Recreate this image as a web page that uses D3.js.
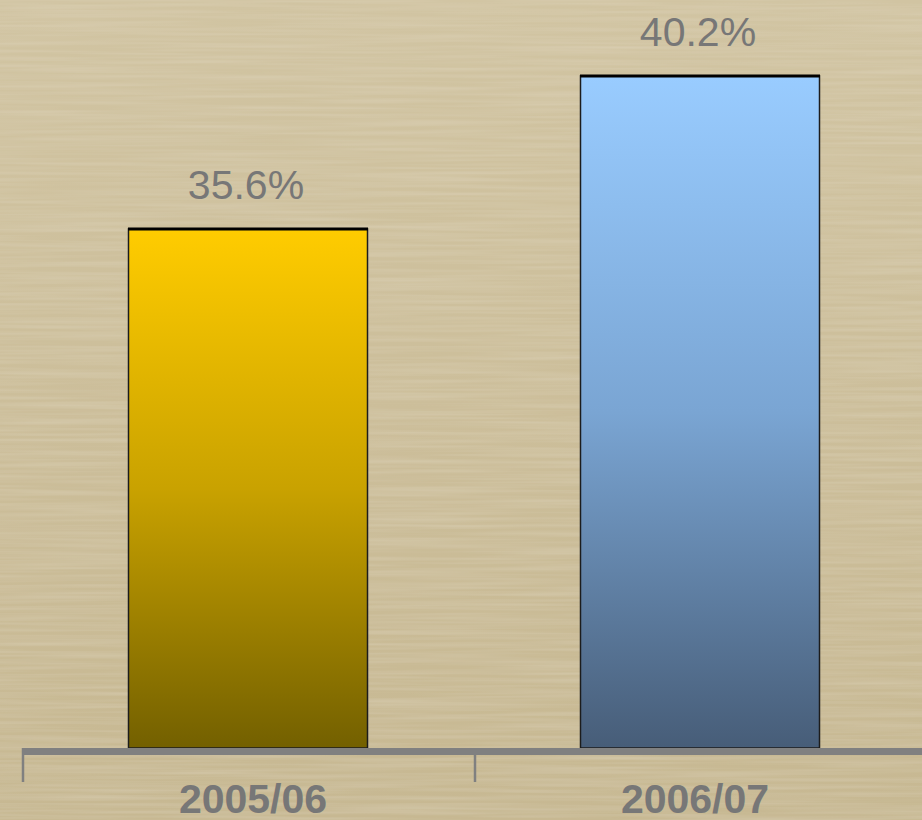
<!DOCTYPE html>
<html>
<head>
<meta charset="utf-8">
<script src="https://cdn.jsdelivr.net/npm/d3@7"></script>
<style>
  html, body { margin: 0; padding: 0; background: #cbbd99; overflow: hidden; }
  svg { display: block; }
</style>
</head>
<body>
<svg id="chart" width="922" height="820"></svg>
<script>
// Share of total, by season
const categories = ["2005/06", "2006/07"];
const values = [35.6, 40.2];
const valueLabels = ["35.6%", "40.2%"];
const barColors = [
  ["#ffcc00", "#c9a200", "#736000"],
  ["#99ccff", "#7aa5d3", "#475d78"]
];

const W = 922, H = 820;
const svg = d3.select("#chart");
const defs = svg.append("defs");

// Woodgrain-like paper texture: horizontally stretched noise
const tex = defs.append("filter").attr("id", "grain")
  .attr("x", 0).attr("y", 0).attr("width", "100%").attr("height", "100%");
tex.append("feTurbulence").attr("type", "fractalNoise")
  .attr("baseFrequency", "0.006 0.28").attr("numOctaves", 2).attr("seed", 7).attr("result", "n");
tex.append("feColorMatrix").attr("in", "n").attr("type", "matrix")
  .attr("values", "0 0 0 0 0.80  0 0 0 0 0.74  0 0 0 0 0.60  0.5 0 0 0 -0.17")
  .attr("result", "tint");
tex.append("feComposite").attr("in", "tint").attr("in2", "SourceGraphic").attr("operator", "over");

const bgGrad = defs.append("linearGradient").attr("id", "bg").attr("x1", 0).attr("y1", 0).attr("x2", 0).attr("y2", 1);
bgGrad.append("stop").attr("offset", 0).attr("stop-color", "#d1c4a2");
bgGrad.append("stop").attr("offset", 1).attr("stop-color", "#c7b892");

svg.append("rect").attr("width", W).attr("height", H).attr("fill", "url(#bg)");
svg.append("rect").attr("width", W).attr("height", H).attr("fill", "url(#bg)").attr("filter", "url(#grain)");

// Bar gradients
barColors.forEach((c, i) => {
  const g = defs.append("linearGradient").attr("id", "bar" + i)
    .attr("x1", 0).attr("y1", 0).attr("x2", 0).attr("y2", 1);
  g.append("stop").attr("offset", 0).attr("stop-color", c[0]);
  g.append("stop").attr("offset", 0.5).attr("stop-color", c[1]);
  g.append("stop").attr("offset", 1).attr("stop-color", c[2]);
});

const baseline = 748;
const x = d3.scaleBand().domain(categories).range([22, 926]).paddingInner(0).paddingOuter(0);
const y = d3.scaleLinear().domain([20, 42]).range([baseline, 16]);
const barW = 239;

const bars = svg.append("g");
categories.forEach((cat, i) => {
  const cx = x(cat) + x.bandwidth() / 2;
  const x0 = cx - barW / 2;
  const top = y(values[i]);
  bars.append("rect")
    .attr("x", x0).attr("y", top)
    .attr("width", barW).attr("height", baseline - top)
    .attr("fill", `url(#bar${i})`)
    .attr("stroke", "#1c1c1c").attr("stroke-width", 1.5);
  bars.append("line")
    .attr("x1", x0 - 0.5).attr("x2", x0 + barW + 0.5)
    .attr("y1", top).attr("y2", top)
    .attr("stroke", "#000").attr("stroke-width", 3);
  bars.append("text")
    .attr("x", cx - 2).attr("y", top - 30)
    .attr("text-anchor", "middle")
    .attr("font-family", "'Liberation Sans', Arial, sans-serif")
    .attr("font-size", 41)
    .attr("fill", "#777777")
    .text(valueLabels[i]);
});

// Category axis
const axis = svg.append("g");
axis.append("line")
  .attr("x1", 22).attr("x2", W)
  .attr("y1", baseline + 3.5).attr("y2", baseline + 3.5)
  .attr("stroke", "#808080").attr("stroke-width", 7);
categories.forEach((cat, i) => {
  axis.append("line")
    .attr("x1", x(cat) + 1).attr("x2", x(cat) + 1)
    .attr("y1", baseline).attr("y2", 782)
    .attr("stroke", "#808080").attr("stroke-width", 2.5);
  axis.append("text")
    .attr("x", x(cat) + x.bandwidth() / 2 + (i === 0 ? 5 : -5)).attr("y", 813)
    .attr("text-anchor", "middle")
    .attr("font-family", "'Liberation Sans', Arial, sans-serif")
    .attr("font-weight", "bold")
    .attr("font-size", 41)
    .attr("fill", "#777777")
    .text(cat);
});
</script>
</body>
</html>
